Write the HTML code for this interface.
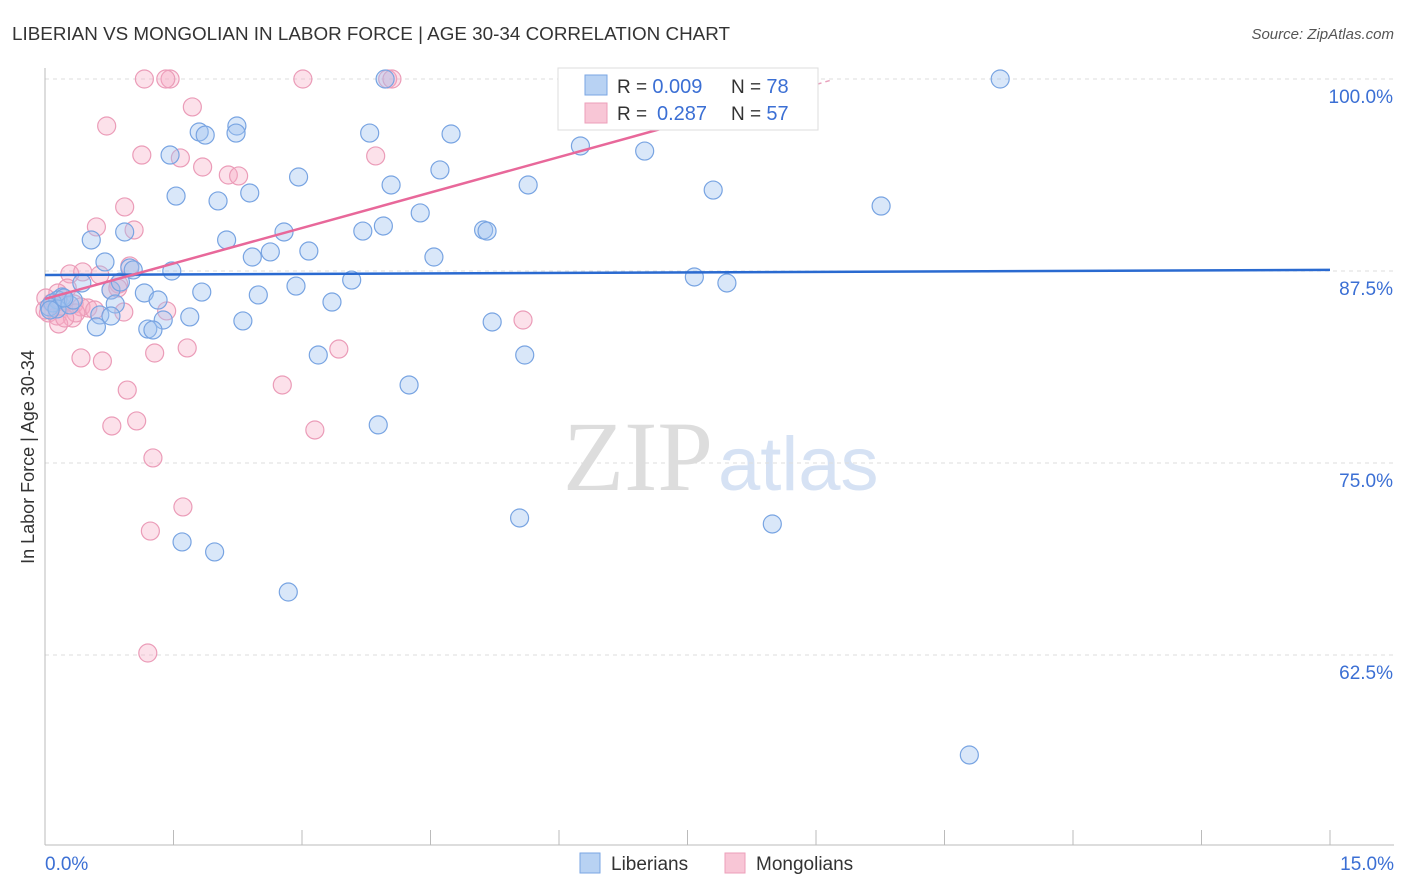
<!DOCTYPE html>
<html><head><meta charset="utf-8">
<style>
body{margin:0;background:#fff;font-family:"Liberation Sans",sans-serif;}
#wrap{position:relative;width:1406px;height:892px;overflow:hidden;}
</style></head>
<body>
<div id="wrap">
<svg id="chart" width="1406" height="892">
<text x="12" y="40" font-size="18" fill="#333" textLength="718" lengthAdjust="spacingAndGlyphs">LIBERIAN VS MONGOLIAN IN LABOR FORCE | AGE 30-34 CORRELATION CHART</text>
<text x="1394" y="39" font-size="15" fill="#555" font-style="italic" text-anchor="end">Source: ZipAtlas.com</text>
<text x="713" y="490" font-size="100" fill="#ddd" font-family="Liberation Serif,serif" text-anchor="end">ZIP</text>
<text x="718" y="490" font-size="76" fill="#d6e2f4">atlas</text>
<text transform="translate(34,457) rotate(-90)" font-size="18" fill="#333" text-anchor="middle">In Labor Force | Age 30-34</text>
<g id="grid"></g><g id="pts"></g><g id="lines"></g>
<g>
<rect x="558" y="68" width="260" height="62" fill="#fff" stroke="#ddd"/>
<rect x="585" y="75" width="22" height="20" fill="#b8d2f3" stroke="#7aa6e3"/>
<rect x="585" y="103" width="22" height="20" fill="#f8c6d6" stroke="#ec9fba"/>
<text x="617" y="93" font-size="19" fill="#333">R = <tspan fill="#3b6fd4" font-size="20">0.009</tspan><tspan x="731">N = </tspan><tspan fill="#3b6fd4" font-size="20">78</tspan></text>
<text x="617" y="120" font-size="19" fill="#333">R = <tspan x="657" fill="#3b6fd4" font-size="20">0.287</tspan><tspan x="731">N = </tspan><tspan fill="#3b6fd4" font-size="20">57</tspan></text>
</g>
<g>
<rect x="580" y="853" width="20" height="20" fill="#b8d2f3" stroke="#7aa6e3"/>
<text x="611" y="870" font-size="19" fill="#333">Liberians</text>
<rect x="725" y="853" width="20" height="20" fill="#f8c6d6" stroke="#ec9fba"/>
<text x="756" y="870" font-size="19" fill="#333">Mongolians</text>
</g>
</svg>
</div>
<script>
const yTicks=[100,87.5,75,62.5];
const yTickLabels=["100.0%","87.5%","75.0%","62.5%"];
const xTickLabels=["0.0%","15.0%"];
const libX=[11.15,3.97,2.24,2.23,1.80,1.87,3.79,4.74,6.25,7.00,1.46,4.61,2.96,4.04,5.64,7.80,1.53,2.39,2.02,4.38,9.76,0.93,2.79,3.71,3.95,5.12,5.16,0.54,2.12,3.08,2.63,2.42,4.54,0.70,0.99,1.03,1.48,7.58,3.58,7.96,0.43,2.93,0.77,1.83,2.49,1.16,1.32,3.35,0.20,0.15,0.09,0.05,0.14,0.29,0.82,0.64,0.77,1.69,1.38,2.31,0.60,1.20,1.26,5.22,3.19,5.60,4.25,3.89,5.54,8.49,1.60,1.98,2.84,10.79,0.88,0.33,0.06,0.22];
const libY=[100,100,96.94,96.48,96.55,96.35,96.48,96.42,95.64,95.31,95.05,94.08,93.62,93.10,93.10,92.77,92.38,92.58,92.06,91.28,91.73,90.04,90.04,90.10,90.43,90.17,90.10,89.52,89.52,88.80,88.74,88.41,88.41,88.09,87.70,87.57,87.50,87.11,86.91,86.72,86.72,86.52,86.26,86.13,85.94,86.07,85.61,85.48,85.81,85.61,85.42,85.16,85.03,85.29,85.35,84.64,84.57,84.51,84.31,84.25,83.86,83.72,83.66,84.18,82.03,82.03,80.08,77.48,71.42,71.03,69.86,69.21,66.60,55.99,86.78,85.61,84.96,85.74];
const monX=[1.16,1.46,1.41,3.01,4.00,4.05,1.72,0.72,1.13,1.58,3.86,1.84,2.14,2.26,0.93,0.60,1.04,0.29,0.44,0.64,0.99,0.86,0.26,0.77,0.15,0.01,0.08,0.19,0.34,0.42,0.50,0.58,0.92,1.42,0.04,0.14,0.32,0.16,5.58,0.42,0.67,1.28,1.66,3.43,2.77,0.96,0.78,1.07,3.15,1.26,1.61,1.23,1.20,0.85,0.36,0.00,0.23];
const monY=[100,100,100,100,100,100,98.18,96.94,95.05,94.86,94.99,94.27,93.75,93.69,91.67,90.37,90.17,87.31,87.44,87.24,87.83,86.65,86.39,86.26,86.07,85.74,85.42,85.22,85.35,85.16,85.09,84.96,84.83,84.90,84.77,84.57,84.44,84.05,84.31,81.84,81.64,82.16,82.49,82.42,80.08,79.75,77.41,77.74,77.15,75.33,72.14,70.57,62.63,86.39,84.77,84.96,84.44];
const libTrend=[[0,87.24],[15,87.57]];
const monTrend=[[0,85.68],[8.0,98.0]];
const monTrendDash=[[8.0,98.0],[9.16,99.9]];
const NS="http://www.w3.org/2000/svg";
const xs=v=>45+v/15*1285;
const ys=v=>79+(100-v)*15.36;
function mk(tag,attrs,parent){const e=document.createElementNS(NS,tag);for(const k in attrs)e.setAttribute(k,attrs[k]);parent.appendChild(e);return e;}
const grid=document.getElementById('grid');
yTicks.forEach((t,i)=>{
 const l=mk('line',{x1:45,x2:1394,y1:ys(t),y2:ys(t),stroke:'#ddd','stroke-dasharray':'4,4'},grid);
 
 
 const tx=mk('text',{x:1393,y:ys(t)+24,'font-size':19,fill:'#3b6fd4','text-anchor':'end'},grid);
 tx.textContent=yTickLabels[i];
 
 
});
const ax=mk('line',{x1:45,x2:45,y1:68,y2:845,stroke:'#bbb'},grid);


const bx=mk('line',{x1:45,x2:1394,y1:845,y2:845,stroke:'#bbb'},grid);


for(let i=0;i<=10;i++){const t=mk('line',{x1:xs(i*1.5),x2:xs(i*1.5),y1:830,y2:845,stroke:'#bbb'},grid);
 
 }
[[0,'start',45],[15,'end',1394]].forEach((d,i)=>{const t=mk('text',{x:d[2],y:870,'font-size':19,fill:'#3b6fd4','text-anchor':d[1]},grid);t.textContent=xTickLabels[i];
 
 });
const pts=document.getElementById('pts');
monX.forEach((x,i)=>{const c=mk('circle',{cx:xs(x),cy:ys(monY[i]),r:9,fill:'rgba(245,170,195,0.35)',stroke:'#eb9cb8','stroke-width':1.2},pts);
 
 });
libX.forEach((x,i)=>{const c=mk('circle',{cx:xs(x),cy:ys(libY[i]),r:9,fill:'rgba(160,195,240,0.4)',stroke:'#78a4e2','stroke-width':1.2},pts);
 
 });
const lines=document.getElementById('lines');
const lb=mk('line',{x1:xs(libTrend[0][0]),y1:ys(libTrend[0][1]),x2:xs(libTrend[1][0]),y2:ys(libTrend[1][1]),stroke:'#2a6ad0','stroke-width':2.5},lines);


const lm=mk('line',{x1:xs(monTrend[0][0]),y1:ys(monTrend[0][1]),x2:xs(monTrend[1][0]),y2:ys(monTrend[1][1]),stroke:'#e8689a','stroke-width':2.5},lines);


const ld=mk('line',{x1:xs(monTrendDash[0][0]),y1:ys(monTrendDash[0][1]),x2:xs(monTrendDash[1][0]),y2:ys(monTrendDash[1][1]),stroke:'#e8a0bc','stroke-width':1.5,'stroke-dasharray':'5,4'},lines);


</script>
</body></html>
